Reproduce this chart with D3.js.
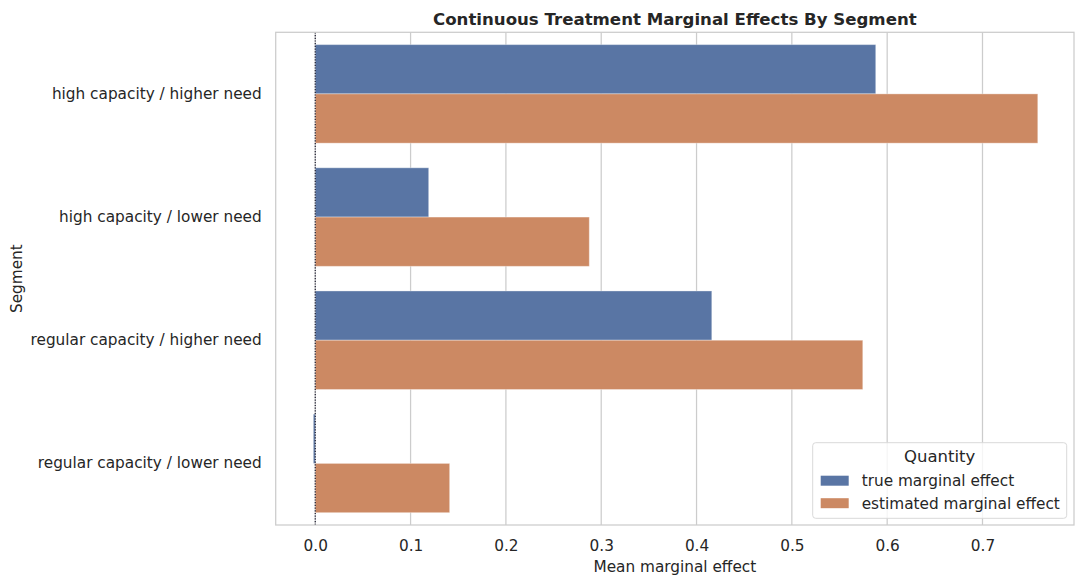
<!DOCTYPE html>
<html>
<head>
<meta charset="utf-8">
<script src="https://cdn.jsdelivr.net/npm/d3@7"></script>
<style>
  body { margin: 0; background: #fff; }
  text { font-family: "DejaVu Sans", sans-serif; fill: #262626; }
</style>
</head>
<body>
<script>
// data
var segments = [
    "high capacity / higher need",
    "high capacity / lower need",
    "regular capacity / higher need",
    "regular capacity / lower need"
];
var quantities = ["true marginal effect", "estimated marginal effect"];
var trueEffect = [0.588, 0.119, 0.416, -0.002];
var estimatedEffect = [0.758, 0.2875, 0.5744, 0.141];
var xTicks = [0, 0.1, 0.2, 0.3, 0.4, 0.5, 0.6, 0.7];

var colors = ["#5975a4", "#cc8963"];

function init() {
    var W = 1084, H = 584;
    var left = 275.7, right = 1074, top = 32.3, bottom = 525;

    var svg = d3.select("body").append("svg")
        .attr("width", W)
        .attr("height", H);

    var xScale = d3.scaleLinear()
        .domain([-0.0415, 0.796])
        .range([left, right]);

    var yScale = d3.scaleBand()
        .domain(segments)
        .range([top, bottom])
        .padding(0);

    // hue offset inside each category slot (seaborn uses 0.8 of the slot)
    var hueScale = d3.scaleBand()
        .domain(quantities)
        .range([yScale.bandwidth() * 0.1, yScale.bandwidth() * 0.9]);

    // vertical grid
    svg.append("g")
        .selectAll("line")
        .data(xTicks)
        .enter().append("line")
        .attr("x1", function(d) { return xScale(d); })
        .attr("x2", function(d) { return xScale(d); })
        .attr("y1", top)
        .attr("y2", bottom)
        .attr("stroke", "#cccccc")
        .attr("stroke-width", 1.25);

    // one row per segment, two bars each
    var rows = segments.map(function(s, i) {
        return [
            { seg: s, q: quantities[0], v: trueEffect[i], c: 0 },
            { seg: s, q: quantities[1], v: estimatedEffect[i], c: 1 }
        ];
    });
    var bars = [].concat.apply([], rows);

    svg.append("g")
        .selectAll("rect")
        .data(bars)
        .enter().append("rect")
        .attr("x", function(d) { return Math.min(xScale(0), xScale(d.v)); })
        .attr("width", function(d) { return Math.abs(xScale(d.v) - xScale(0)); })
        .attr("y", function(d) { return yScale(d.seg) + hueScale(d.q); })
        .attr("height", hueScale.bandwidth())
        .attr("fill", function(d) { return colors[d.c]; })
        .attr("stroke", "#ffffff")
        .attr("stroke-opacity", 0.35)
        .attr("stroke-width", 1);

    // dotted zero line
    svg.append("line")
        .attr("x1", xScale(0))
        .attr("x2", xScale(0))
        .attr("y1", top)
        .attr("y2", bottom)
        .attr("stroke", "#1a1a2e")
        .attr("stroke-width", 1.2)
        .attr("stroke-dasharray", "1.2,1.5");

    // frame
    svg.append("rect")
        .attr("x", left)
        .attr("y", top)
        .attr("width", right - left)
        .attr("height", bottom - top)
        .attr("fill", "none")
        .attr("stroke", "#cccccc")
        .attr("stroke-width", 1.25);

    // x axis
    var xAxis = d3.axisBottom(xScale)
        .tickValues(xTicks)
        .tickFormat(d3.format(".1f"))
        .tickSize(0)
        .tickPadding(15);
    var gx = svg.append("g")
        .attr("transform", "translate(0," + bottom + ")")
        .call(xAxis);
    gx.select(".domain").remove();
    gx.selectAll("text")
        .style("font-size", "15.3px")
        .attr("fill", "#262626");

    // y axis
    var yAxis = d3.axisLeft(yScale)
        .tickSize(0)
        .tickPadding(14);
    var gy = svg.append("g")
        .attr("transform", "translate(" + left + ",0)")
        .call(yAxis);
    gy.select(".domain").remove();
    gy.selectAll("text")
        .style("font-size", "15.3px")
        .attr("fill", "#262626");

    // title
    svg.append("text")
        .attr("x", (left + right) / 2)
        .attr("y", 24.5)
        .attr("text-anchor", "middle")
        .style("font-size", "16.6px")
        .style("font-weight", "bold")
        .text("Continuous Treatment Marginal Effects By Segment");

    // axis labels
    svg.append("text")
        .attr("x", (left + right) / 2)
        .attr("y", 572)
        .attr("text-anchor", "middle")
        .style("font-size", "15.3px")
        .text("Mean marginal effect");

    svg.append("text")
        .attr("transform", "translate(22," + ((top + bottom) / 2) + ") rotate(-90)")
        .attr("text-anchor", "middle")
        .style("font-size", "15.3px")
        .text("Segment");

    // legend
    var lg = svg.append("g").attr("transform", "translate(812.7,442.7)");
    lg.append("rect")
        .attr("width", 254)
        .attr("height", 75.6)
        .attr("rx", 3)
        .attr("fill", "#ffffff")
        .attr("fill-opacity", 0.8)
        .attr("stroke", "#d9d9d9")
        .attr("stroke-width", 1);
    lg.append("text")
        .attr("x", 127)
        .attr("y", 19)
        .attr("text-anchor", "middle")
        .style("font-size", "16.5px")
        .text("Quantity");
    var items = lg.selectAll(".item")
        .data(quantities)
        .enter().append("g")
        .attr("transform", function(d, i) { return "translate(8," + (33 + i * 22.5) + ")"; });
    items.append("rect")
        .attr("width", 28)
        .attr("height", 10)
        .attr("fill", function(d, i) { return colors[i]; });
    items.append("text")
        .attr("x", 41)
        .attr("y", 10.5)
        .style("font-size", "15.3px")
        .text(function(d) { return d; });
}

window.onload = init;
</script>
</body>
</html>
